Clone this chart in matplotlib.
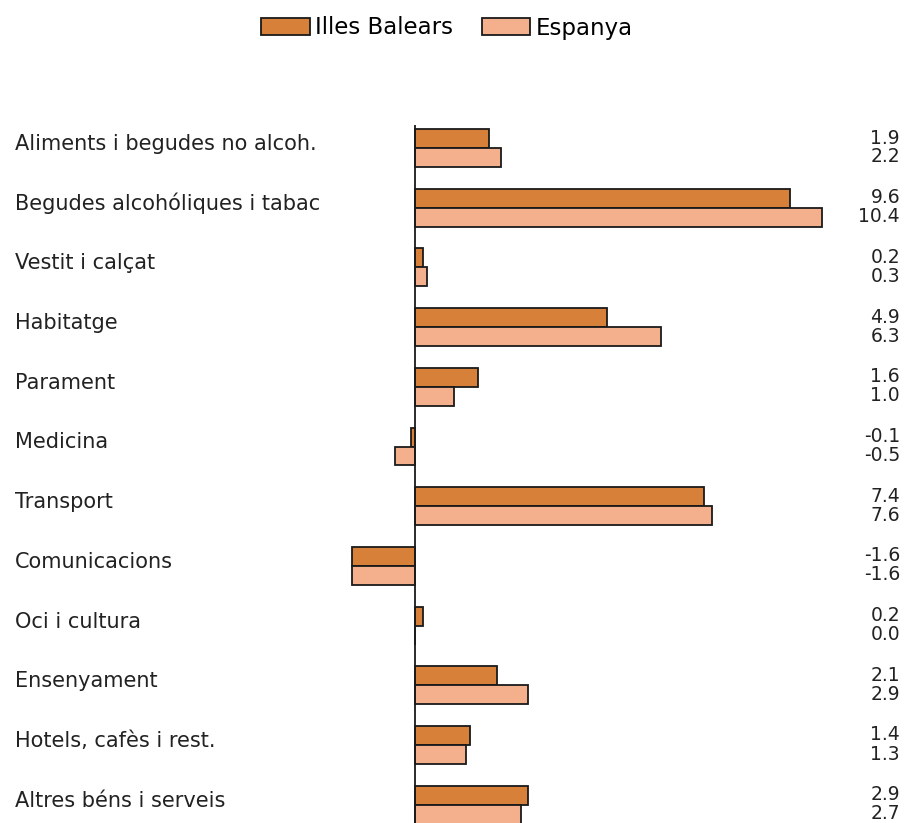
import numpy as np
import matplotlib
matplotlib.use("Agg")
import matplotlib.pyplot as plt
from matplotlib.patches import Patch

# Données
categories = ["Aliments i begudes no alcoh.", "Begudes alcohóliques i tabac",
              "Vestit i calçat", "Habitatge", "Parament", "Medicina",
              "Transport", "Comunicacions", "Oci i cultura", "Ensenyament",
              "Hotels, cafès i rest.", "Altres béns i serveis"]
illes_balears = [1.9, 9.6, 0.2, 4.9, 1.6, -0.1, 7.4, -1.6, 0.2, 2.1, 1.4, 2.9]
espanya = [2.2, 10.4, 0.3, 6.3, 1.0, -0.5, 7.6, -1.6, 0.0, 2.9, 1.3, 2.7]
series_noms = ["Illes Balears", "Espanya"]

couleur_ib = "#D6803A"
couleur_es = "#F4B08C"

W, H = 909, 823
fig = plt.figure(figsize=(W / 100, H / 100), dpi=100)
# axes en pixels : gauche 340, droite 830, haut 118, bas 823
ax = fig.add_axes([340 / W, 0, (830 - 340) / W, (823 - 118) / H])

pos = np.arange(len(categories))
h = 0.318
ax.barh(pos - h / 2, illes_balears, height=h, color=couleur_ib,
        edgecolor="#1a1a1a", linewidth=1.3)
ax.barh(pos + h / 2, espanya, height=h, color=couleur_es,
        edgecolor="#1a1a1a", linewidth=1.3)

zero_px = 415
echelle = 39.1
ax.set_xlim(-(zero_px - 340) / echelle, (830 - zero_px) / echelle)
y_haut = (118 - 148) / 59.7
y_bas = (823 - 148) / 59.7
ax.set_ylim(y_bas, y_haut)
ax.vlines(0, (125 - 148) / 59.7, y_bas, color="#1a1a1a", linewidth=1.3)
ax.axis("off")

police_cat = dict(family="DejaVu Sans", fontsize=15, color="#222222")
police_val = dict(family="DejaVu Sans", fontsize=13.5, color="#222222")

for i, nom in enumerate(categories):
    y_fig = 1 - (148 + 59.7 * i - 4) / H
    fig.text(15 / W, y_fig, nom, ha="left", va="center", **police_cat)
    y1 = 1 - (148 + 59.7 * i - 10) / H
    y2 = 1 - (148 + 59.7 * i + 9) / H
    fig.text(900 / W, y1, f"{illes_balears[i]:.1f}", ha="right", va="center", **police_val)
    fig.text(900 / W, y2, f"{espanya[i]:.1f}", ha="right", va="center", **police_val)

# Légende
poignees = [Patch(facecolor=couleur_ib, edgecolor="#1a1a1a", linewidth=1.3),
            Patch(facecolor=couleur_es, edgecolor="#1a1a1a", linewidth=1.3)]
fig.legend(poignees, series_noms, loc="center", bbox_to_anchor=(447 / W, 1 - 28 / H),
           ncol=2, frameon=False, handlelength=2.1, handleheight=0.7,
           handletextpad=0.22, columnspacing=1.3,
           prop=dict(family="DejaVu Sans", size=16.5))

fig.savefig("out.png", dpi=100, facecolor="white")
